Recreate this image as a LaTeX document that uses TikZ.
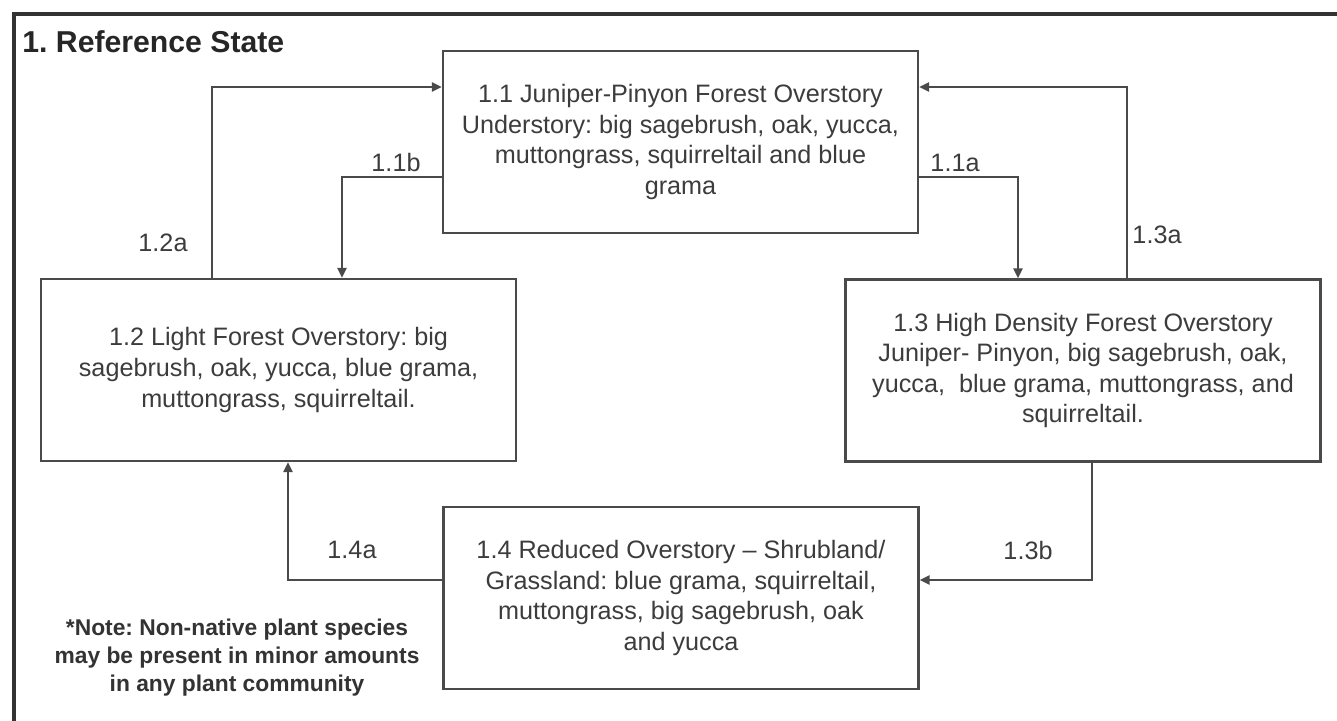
\documentclass[tikz,border=0pt]{standalone}
\usepackage{fontspec}
\setmainfont{Liberation Sans}
\usetikzlibrary{arrows.meta}
\frenchspacing
\definecolor{linecol}{HTML}{4A4A4A}
\definecolor{txtcol}{HTML}{3C3C3C}
\definecolor{framecol}{HTML}{333333}
\tikzset{
  statebox/.style={draw=linecol, line width=1.2pt, fill=white, inner sep=0pt,
    minimum width=237.5pt, minimum height=91pt, align=center, text=txtcol,
    font=\fontsize{12.6}{15.3}\selectfont},
  arr/.style={draw=linecol, line width=1pt, -{Triangle[length=5pt,width=4.6pt]}},
  lbl/.style={text=txtcol, inner sep=0pt, font=\fontsize{12.6}{15.3}\selectfont},
}
\begin{document}
\frenchspacing
\begin{tikzpicture}[x=0.5pt,y=-0.5pt]
\useasboundingbox (0,0) rectangle (1337,720);
\clip (0,0) rectangle (1337,720);
\fill[white] (0,0) rectangle (1337,720);
\draw[framecol, line width=2pt] (14,760) -- (14,14) -- (1380,14);
\node[anchor=west, inner sep=0pt, text=black!85, font=\bfseries\fontsize{15.1}{18}\selectfont] (title) at (22,42) {1. Reference State};

\node[statebox] (n11) at (680.5,142) {1.1 Juniper-Pinyon Forest Overstory\\Understory: big sagebrush, oak, yucca,\\muttongrass, squirreltail and blue\\grama};
\node[statebox] (n12) at (278.5,370) {1.2 Light Forest Overstory: big\\sagebrush, oak, yucca, blue grama,\\muttongrass, squirreltail.};
\node[statebox] (n13) at (1083,370.5) {1.3 High Density Forest Overstory\\Juniper- Pinyon, big sagebrush, oak,\\yucca,\ \ blue grama, muttongrass, and\\squirreltail.};
\node[statebox] (n14) at (681,598) {1.4 Reduced Overstory -- Shrubland/\\Grassland: blue grama, squirreltail,\\muttongrass, big sagebrush, oak\\and yucca};

\coordinate (b11a) at (1018,177);
\coordinate (b11b) at (342,177);
\coordinate (b12a) at (212,87);
\coordinate (b13a) at (1127,87);
\coordinate (b13b) at (1092,580);
\coordinate (b14a) at (288,580);

\draw[arr] (n11.east |- b11a) -| (b11a |- n13.north);
\draw[arr] (n11.west |- b11b) -| (b11b |- n12.north);
\draw[arr] (b12a |- n12.north) |- (n11.west |- b12a);
\draw[arr] (b13a |- n13.north) |- (n11.east |- b13a);
\draw[arr] (b13b |- n13.south) |- (n14.east |- b13b);
\draw[arr] (n14.west |- b14a) -| (b14a |- n12.south);

\node[lbl] (l11a) at (955,163) {1.1a};
\node[lbl] (l11b) at (396,162) {1.1b};
\node[lbl] (l12a) at (163,243) {1.2a};
\node[lbl] (l13a) at (1157,235) {1.3a};
\node[lbl] (l13b) at (1028,550) {1.3b};
\node[lbl] (l14a) at (352,550) {1.4a};

\node[align=center, inner sep=0pt, text=black!80, font=\bfseries\fontsize{11.4}{14}\selectfont] (note) at (237,658) {*Note: Non-native plant species\\may be present in minor amounts\\in any plant community};
\end{tikzpicture}
\end{document}
